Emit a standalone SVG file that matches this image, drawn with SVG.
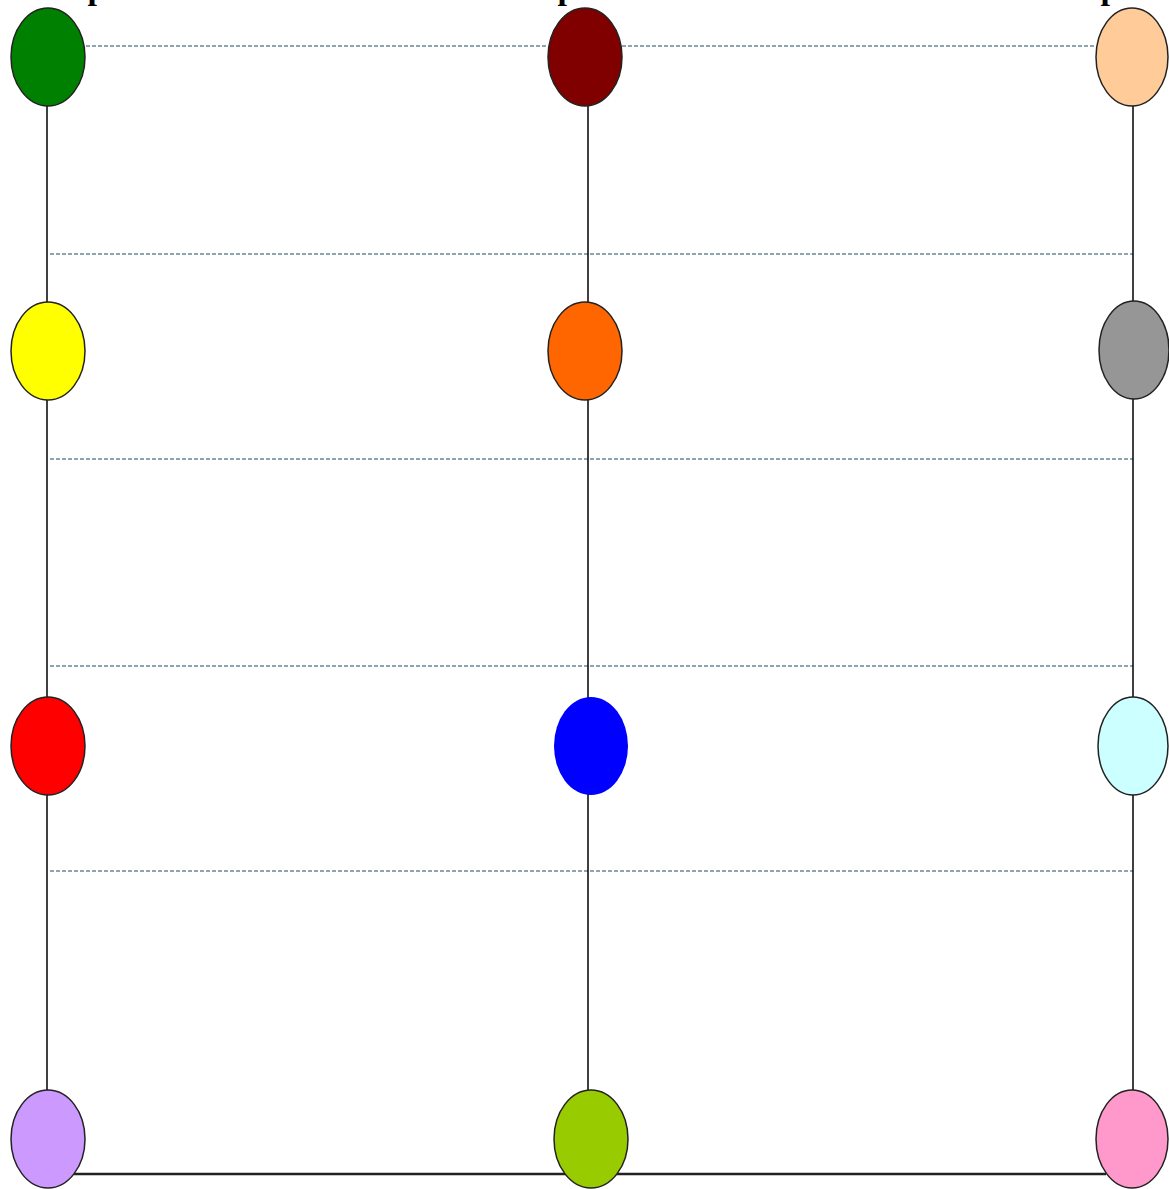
<svg xmlns="http://www.w3.org/2000/svg" width="1169" height="1189" viewBox="0 0 1169 1189">
<style>
.n{stroke:#222;stroke-width:1.5}
.v{stroke:#000;stroke-width:1.5;fill:none}
.d{stroke:#6a8898;stroke-width:1.5;stroke-dasharray:4 2;fill:none}
.t{font-family:"Liberation Serif",serif;font-weight:bold;font-size:34px;fill:#000}
</style>
<rect width="1169" height="1189" fill="#fff"/>
<g id="labels">
<text class="t" x="97" y="-1" text-anchor="middle">p</text>
<text class="t" x="567" y="-1" text-anchor="middle">p</text>
<text class="t" x="1110" y="-1" text-anchor="middle">p</text>
</g>
<g id="connectors">
<line class="d" x1="86" y1="46" x2="548" y2="46"/>
<line class="d" x1="622" y1="46" x2="1096" y2="46"/>
<line class="d" x1="50" y1="254" x2="1133" y2="254"/>
<line class="d" x1="50" y1="459" x2="1133" y2="459"/>
<line class="d" x1="50" y1="666" x2="1133" y2="666"/>
<line class="d" x1="50" y1="871" x2="1133" y2="871"/>
<line class="v" x1="47" y1="106" x2="47" y2="1090"/>
<line class="v" x1="588" y1="106" x2="588" y2="1090"/>
<line class="v" x1="1133" y1="106" x2="1133" y2="1090"/>
<line x1="74" y1="1174" x2="1106" y2="1174" stroke="#222" stroke-width="2.5"/>
</g>
<g id="n1"><ellipse class="n" cx="48" cy="57" rx="37" ry="49" fill="#008000"/></g>
<g id="n2"><ellipse class="n" cx="585" cy="57" rx="37" ry="49" fill="#800000"/></g>
<g id="n3"><ellipse class="n" cx="1132" cy="57" rx="36" ry="49" fill="#ffcc99"/></g>
<g id="n4"><ellipse class="n" cx="48" cy="351" rx="37" ry="49" fill="#ffff00"/></g>
<g id="n5"><ellipse class="n" cx="585" cy="351" rx="37" ry="49" fill="#ff6600"/></g>
<g id="n6"><ellipse class="n" cx="1134" cy="350" rx="35" ry="49" fill="#969696"/></g>
<g id="n7"><ellipse class="n" cx="48" cy="746" rx="37" ry="49" fill="#ff0000"/></g>
<g id="n8"><ellipse cx="591" cy="746" rx="37" ry="49" fill="#0000ff"/></g>
<g id="n9"><ellipse class="n" cx="1133" cy="746" rx="35" ry="49" fill="#ccffff"/></g>
<g id="n10"><ellipse class="n" cx="48" cy="1139" rx="37" ry="49" fill="#cc99ff"/></g>
<g id="n11"><ellipse class="n" cx="591" cy="1139" rx="37" ry="49" fill="#99cc00"/></g>
<g id="n12"><ellipse class="n" cx="1132" cy="1139" rx="36" ry="49" fill="#ff99cc"/></g>
</svg>
